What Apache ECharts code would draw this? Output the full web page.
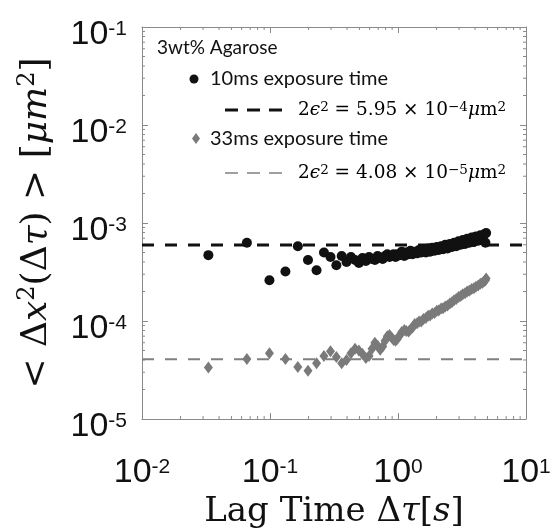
<!DOCTYPE html>
<html><head><meta charset="utf-8">
<script src="https://cdn.jsdelivr.net/npm/echarts@6/dist/echarts.min.js"></script>
<style>html,body{margin:0;padding:0;background:#fff}#c{width:554px;height:529px}</style>
</head><body><div id="c"></div>
<script>
// Lag times (s)
const lagTime = [0.033,0.066,0.099,0.132,0.165,0.198,0.231,0.264,0.297,0.33,
  0.363,0.396,0.429,0.462,0.495,0.528,0.561,0.594,0.627,0.66,
  0.693,0.726,0.759,0.792,0.825,0.858,0.891,0.924,0.957,0.99,
  1.03,1.07,1.12,1.16,1.21,1.25,1.30,1.35,1.41,1.46,
  1.52,1.58,1.65,1.72,1.78,1.85,1.93,2.01,2.08,2.17,
  2.25,2.34,2.44,2.54,2.64,2.74,2.85,2.97,3.09,3.21,
  3.34,3.47,3.61,3.76,3.91,4.06,4.23,4.40,4.57,4.75,
  4.82,4.88];
// MSD, 10 ms exposure (um^2)
const msd10ms = [4.7e-4,6.3e-4,2.6e-4,3.2e-4,5.8e-4,4.2e-4,3.3e-4,5.0e-4,4.5e-4,3.7e-4,
  4.6e-4,4.0e-4,4.5e-4,4.2e-4,3.9e-4,4.4e-4,4.1e-4,4.5e-4,4.3e-4,4.2e-4,
  4.6e-4,4.4e-4,4.3e-4,4.6e-4,4.8e-4,4.5e-4,4.6e-4,4.8e-4,4.5e-4,4.8e-4,
  4.7e-4,5.1e-4,4.6e-4,5.0e-4,4.8e-4,5.2e-4,4.8e-4,5.1e-4,4.9e-4,5.3e-4,
  5.0e-4,5.4e-4,5.0e-4,5.5e-4,5.1e-4,5.6e-4,5.2e-4,5.7e-4,5.3e-4,5.8e-4,
  5.4e-4,6.0e-4,5.5e-4,6.1e-4,5.7e-4,6.3e-4,5.8e-4,6.5e-4,6.0e-4,6.7e-4,
  6.1e-4,6.9e-4,6.3e-4,7.1e-4,6.4e-4,7.3e-4,6.6e-4,7.5e-4,6.7e-4,7.7e-4,
  6.3e-4,7.9e-4];
// MSD, 33 ms exposure (um^2)
const msd33ms = [3.35e-5,4.1e-5,4.7e-5,4.1e-5,3.4e-5,3.1e-5,3.7e-5,4.4e-5,4.9e-5,4.3e-5,
  3.7e-5,4.0e-5,4.7e-5,5.2e-5,5.0e-5,4.6e-5,4.2e-5,4.4e-5,5.2e-5,6.0e-5,
  5.6e-5,5.1e-5,5.5e-5,6.3e-5,7.0e-5,7.2e-5,6.8e-5,6.4e-5,6.3e-5,6.6e-5,
  7.1e-5,7.7e-5,8.1e-5,7.9e-5,7.8e-5,8.2e-5,8.6e-5,9.3e-5,9.5e-5,9.9e-5,
  0.99e-4,1.05e-4,1.07e-4,1.13e-4,1.14e-4,1.19e-4,1.21e-4,1.27e-4,1.28e-4,1.34e-4,
  1.35e-4,1.41e-4,1.44e-4,1.51e-4,1.55e-4,1.63e-4,1.68e-4,1.76e-4,1.80e-4,1.88e-4,
  1.92e-4,2.00e-4,2.04e-4,2.12e-4,2.16e-4,2.24e-4,2.30e-4,2.40e-4,2.46e-4,2.56e-4,
  2.6e-4,2.72e-4];
// Noise floor levels 2*eps^2 (um^2)
const floor10ms = 5.95e-4;
const floor33ms = 4.08e-5;
// Axis ranges and minor ticks
const xRange = [0.01, 10];
const yRange = [1e-5, 1e-1];
const xMinorTicks = [0.02,0.03,0.04,0.05,0.06,0.07,0.08,0.09,0.2,0.3,0.4,0.5,0.6,0.7,0.8,0.9,2,3,4,5,6,7,8,9];
const yMinorTicks = [2e-5,3e-5,4e-5,5e-5,6e-5,7e-5,8e-5,9e-5,2e-4,3e-4,4e-4,5e-4,6e-4,7e-4,8e-4,9e-4,
  2e-3,3e-3,4e-3,5e-3,6e-3,7e-3,8e-3,9e-3,2e-2,3e-2,4e-2,5e-2,6e-2,7e-2,8e-2,9e-2];

const FRAME = '#8a8a8a';
const labelRich = {
  b:{fontSize:34,fontFamily:'Liberation Sans',color:'#111',lineHeight:33,verticalAlign:'bottom'},
  e:{fontSize:21,fontFamily:'Liberation Sans',color:'#111',lineHeight:22,verticalAlign:'top'}
};
function fmt(v){ const e = Math.round(Math.log10(v)); return '{b|10}{e|' + e + '}'; }

const chart = echarts.init(document.getElementById('c'), null, {renderer:'canvas'});
const serif = 'DejaVu Serif';
function minorRender(isX){
  return function(params, api){
    const v = api.value(isX ? 0 : 1);
    let a, b, ch = [];
    if (isX) {
      a = api.coord([v, yRange[0]]); b = api.coord([v, yRange[1]]);
      ch.push({type:'line',shape:{x1:a[0],y1:a[1],x2:a[0],y2:a[1]-3},style:{stroke:FRAME,lineWidth:1}});
      ch.push({type:'line',shape:{x1:b[0],y1:b[1],x2:b[0],y2:b[1]+3},style:{stroke:FRAME,lineWidth:1}});
    } else {
      a = api.coord([xRange[0], v]); b = api.coord([xRange[1], v]);
      ch.push({type:'line',shape:{x1:a[0],y1:a[1],x2:a[0]+3,y2:a[1]},style:{stroke:FRAME,lineWidth:1}});
      ch.push({type:'line',shape:{x1:b[0],y1:b[1],x2:b[0]-3,y2:b[1]},style:{stroke:FRAME,lineWidth:1}});
    }
    return {type:'group',children:ch};
  };
}
const legRich = {
  a:{fontSize:18.5,fontFamily:serif,color:'#111'},
  s:{fontSize:13.5,fontFamily:serif,color:'#111',verticalAlign:'top',lineHeight:12},
  i:{fontSize:18.5,fontFamily:serif,fontStyle:'italic',color:'#111'}
};
function titleRich(fs){
  return {
    r:{fontSize:fs,fontFamily:serif,color:'#111',lineHeight:fs+6},
    i:{fontSize:fs,fontFamily:serif,fontStyle:'italic',color:'#111',lineHeight:fs+6},
    s:{fontSize:Math.round(fs*0.66),fontFamily:serif,color:'#111',verticalAlign:'top',lineHeight:Math.round(fs*0.6)}
  };
}
const option = {
  animation:false,
  grid:{left:142,top:27,right:28,bottom:110,containLabel:false,outerBoundsMode:'none'},
  xAxis:[{
    type:'log',logBase:10,min:xRange[0],max:xRange[1],
    axisLine:{show:true,lineStyle:{color:FRAME,width:1}},
    axisTick:{show:true,inside:true,length:6,lineStyle:{color:FRAME}},
    splitLine:{show:false},
    axisLabel:{formatter:fmt,rich:labelRich,margin:38,showMinLabel:true,showMaxLabel:true},
    name:'{r|Lag Time Δ}{i|τ}{r|[}{i|s}{r|]}',
    nameLocation:'middle',nameGap:68,
    nameTextStyle:{rich:titleRich(34)}
  },{
    type:'log',logBase:10,min:xRange[0],max:xRange[1],position:'top',
    axisLine:{show:true,lineStyle:{color:FRAME,width:1}},
    axisTick:{show:true,inside:true,length:6,lineStyle:{color:FRAME}},
    axisLabel:{show:false},splitLine:{show:false}
  }],
  yAxis:[{
    type:'log',logBase:10,min:yRange[0],max:yRange[1],
    axisLine:{show:true,lineStyle:{color:FRAME,width:1}},
    axisTick:{show:true,inside:true,length:6,lineStyle:{color:FRAME}},
    splitLine:{show:false},
    axisLabel:{formatter:fmt,rich:labelRich,margin:15,padding:[16,0,0,0],showMinLabel:true,showMaxLabel:true},
    name:'{r|< Δ}{i|x}{s|2}{r|(Δ}{i|τ}{r|) > [}{i|μm}{s|2}{r|]}',
    nameLocation:'middle',nameGap:84,nameRotate:90,
    nameTextStyle:{rich:titleRich(36)}
  },{
    type:'log',logBase:10,min:yRange[0],max:yRange[1],position:'right',
    axisLine:{show:true,lineStyle:{color:FRAME,width:1}},
    axisTick:{show:true,inside:true,length:6,lineStyle:{color:FRAME}},
    axisLabel:{show:false},splitLine:{show:false}
  }],
  series:[
    {type:'custom',renderItem:minorRender(true),data:xMinorTicks.map(v=>[v,yRange[0]]),silent:true,clip:false,z:1},
    {type:'custom',renderItem:minorRender(false),data:yMinorTicks.map(v=>[xRange[0],v]),silent:true,clip:false,z:1},
    {type:'line',data:[[xRange[0],floor10ms],[xRange[1],floor10ms]],symbol:'none',
      lineStyle:{color:'#111',width:3,type:[12,11]},z:2,silent:true},
    {type:'line',data:[[xRange[0],floor33ms],[xRange[1],floor33ms]],symbol:'none',
      lineStyle:{color:'#808080',width:2,type:[12,11]},z:2,silent:true},
    {type:'scatter',name:'10ms exposure time',data:lagTime.map((t,i)=>[t,msd10ms[i]]),
      symbol:'circle',symbolSize:10,itemStyle:{color:'#111',opacity:1},z:3},
    {type:'scatter',name:'33ms exposure time',data:lagTime.map((t,i)=>[t,msd33ms[i]]),
      symbol:'diamond',symbolSize:[9,12],itemStyle:{color:'#7a7a7a',opacity:1},z:3}
  ],
  graphic:[
    {type:'text',x:157,y:48,style:{text:'3wt% Agarose',font:'19px Lato',fill:'#111',verticalAlign:'middle'}},
    {type:'circle',shape:{cx:194,cy:79,r:4.5},style:{fill:'#111'}},
    {type:'text',x:210,y:79,style:{text:'10ms exposure time',font:'20px Lato',fill:'#111',verticalAlign:'middle'}},
    {type:'line',shape:{x1:225,y1:110,x2:290,y2:110},style:{stroke:'#111',lineWidth:3,lineDash:[13,9]}},
    {type:'text',x:298,y:110,style:{verticalAlign:'middle',text:'{a|2}{i|ϵ}{s|2}{a| = 5.95 × 10}{s|−4}{i|μ}{a|m}{s|2}',rich:legRich}},
    {type:'polygon',shape:{points:[[196,133],[200,138.5],[196,144],[192,138.5]]},style:{fill:'#7a7a7a'}},
    {type:'text',x:210,y:139,style:{text:'33ms exposure time',font:'20px Lato',fill:'#111',verticalAlign:'middle'}},
    {type:'line',shape:{x1:225,y1:173,x2:290,y2:173},style:{stroke:'#808080',lineWidth:1.5,lineDash:[13,9]}},
    {type:'text',x:298,y:173,style:{verticalAlign:'middle',text:'{a|2}{i|ϵ}{s|2}{a| = 4.08 × 10}{s|−5}{i|μ}{a|m}{s|2}',rich:legRich}}
  ]
};
chart.setOption(option);
</script></body></html>
